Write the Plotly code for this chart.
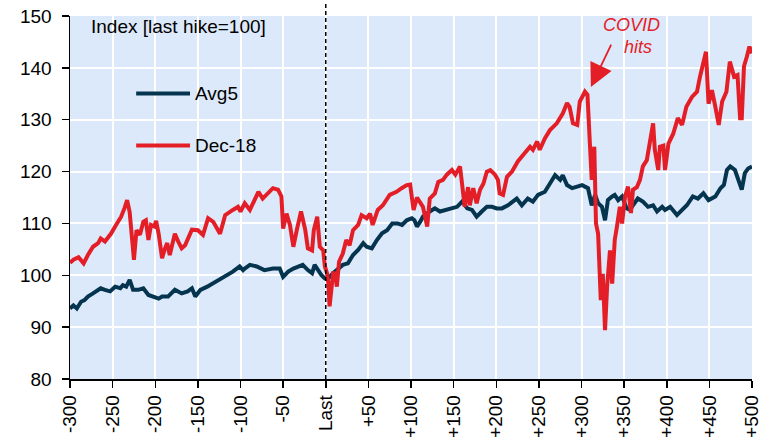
import plotly.graph_objects as go

# ---- data ----
dec18_x = [-300, -296, -290, -284, -279, -273, -267, -264, -259, -252, -246, -240, -236, -233, -230, -227, -225,
           -222, -218, -214, -211, -208, -205, -201, -199, -196, -192, -189, -186, -183, -180, -177, -173, -169,
           -165, -161, -157, -150, -144, -138, -132, -124, -118, -109, -103, -100, -95, -89, -84, -79, -74, -68,
           -62, -56, -52, -50, -46, -42, -38, -34, -29, -24, -21, -16, -14, -10, -7, -3, -1, 1.5, 3, 4.5, 7, 8.6,
           11, 13, 15.6, 20, 24, 28, 32, 38, 42, 48, 52, 55, 61, 67, 75, 83, 89, 95, 99, 103, 107, 110.6, 114,
           119, 122, 128, 132, 137.5, 142, 148, 152, 157.5, 161, 163, 167, 169, 173, 177, 181, 185, 189, 193,
           198.5, 202, 204, 208, 212.6, 218.5, 225.5, 233.7, 239.6, 243, 248, 251, 257, 263, 271, 278, 283, 286,
           290, 295, 298, 304, 307, 310, 312, 315, 317, 319.5, 322.6, 325, 327.6, 330, 333.4, 336, 339, 341.6,
           345, 347.6, 351, 354.6, 358, 360.4, 365, 368.6, 372, 376.6, 380, 384, 386, 390, 392, 396, 398, 402,
           407.6, 413, 418, 423, 429.6, 435.5, 439, 443, 446, 449, 453, 457, 461, 465, 470, 474, 479, 483, 486,
           488, 490.6, 494, 497, 500]
dec18_y = [102.4, 103.0, 103.5, 102.3, 103.9, 105.5, 106.2, 107.1, 106.5, 108.0, 109.7, 111.3, 113.0, 114.5, 112.2,
           106.8, 103.0, 108.7, 107.8, 110.3, 110.6, 106.8, 109.7, 109.4, 110.5, 108.0, 103.3, 105.0, 106.2, 103.9,
           106.0, 108.0, 106.5, 105.2, 105.8, 107.5, 108.8, 108.7, 107.8, 111.0, 110.3, 108.0, 111.6, 112.6, 113.2,
           112.3, 113.9, 112.6, 114.5, 116.1, 114.8, 115.8, 116.8, 116.5, 115.2, 109.0, 111.9, 109.7, 105.5, 108.7,
           112.3, 108.7, 105.2, 104.8, 108.7, 111.3, 105.5, 104.8, 101.7, 100.4, 98.5, 94.0, 98.5, 100.4, 100.4,
           97.8, 102.6, 104.2, 106.8, 105.8, 108.7, 109.7, 111.6, 111.0, 111.9, 109.7, 112.6, 113.5, 115.5, 116.1,
           116.8, 117.4, 117.5, 112.6, 115.0, 113.9, 113.2, 109.4, 114.8, 115.8, 118.0, 118.4, 119.4, 120.3, 119.4,
           121.0, 115.2, 113.2, 117.0, 113.5, 116.8, 113.9, 116.5, 117.7, 120.0, 120.3, 119.4, 118.4, 115.8, 115.5,
           119.0, 120.0, 122.0, 123.8, 124.8, 124.2, 125.8, 124.2, 126.4, 128.0, 129.3, 131.2, 133.2, 132.5, 129.3,
           129.0, 133.5, 135.4, 134.8, 124.8, 118.4, 124.8, 110.0, 108.0, 95.2, 100.3, 89.4, 97.7, 104.8, 98.4,
           106.8, 109.4, 113.2, 110.0, 115.1, 117.1, 112.0, 116.5, 117.0, 118.4, 121.0, 122.2, 125.4, 129.3, 124.2,
           120.3, 124.8, 125.0, 120.3, 125.4, 127.3, 130.3, 129.0, 132.5, 134.4, 135.4, 138.3, 140.9, 143.1, 133.1,
           135.7, 132.5, 129.0, 133.5, 135.4, 141.2, 138.3, 138.6, 130.3, 130.3, 140.3, 142.2, 144.1, 142.8]

avg5_x = [-300, -296, -292, -287, -283, -279, -273, -267, -264, -259, -253, -247, -241, -238, -234, -230, -226, -220,
          -214, -208, -204, -200, -196, -192, -185, -177, -169, -162, -157, -153, -147, -139, -132, -124, -116,
          -109, -101, -97, -95, -89, -81, -72, -62, -54, -50, -44, -38, -32, -27, -21, -16, -13, -9, -5, -1, 3,
          8.6, 14.5, 20, 26, 32, 38, 44, 48, 54, 60, 66, 72, 78, 84, 89.5, 95, 101, 104, 107, 110.6, 114, 122,
          128, 134, 142, 148, 154, 160, 166, 171.5, 177, 183, 189, 195, 200.6, 206.6, 213.7, 224, 230, 237, 243,
          249, 257, 263, 269, 275, 278, 283, 289, 295, 300.6, 304, 307.6, 312, 316, 319.5, 324, 327.6, 331, 336,
          339, 343, 347.6, 353, 357, 360.4, 366, 372, 378, 384, 388.6, 394.6, 398, 404, 412, 418, 423.6, 430.6,
          436.5, 443, 449, 457, 463, 467, 470.6, 474.5, 480, 484, 488, 491.6, 495.5, 500]
avg5_y = [93.6, 94.2, 93.6, 94.9, 95.2, 95.9, 96.5, 97.2, 97.5, 97.2, 96.9, 97.8, 97.5, 98.1, 97.8, 99.1, 97.2, 97.2,
          97.5, 96.2, 96.0, 95.6, 95.5, 95.9, 95.9, 97.2, 96.5, 96.9, 97.5, 95.9, 97.2, 97.8, 98.5, 99.1, 100.1,
          100.7, 101.7, 101.0, 101.3, 102.0, 101.7, 101.0, 101.3, 101.3, 99.7, 100.7, 101.3, 101.7, 102.0, 101.0,
          100.4, 102.0, 101.0, 100.0, 99.4, 99.4, 100.4, 101.3, 102.0, 102.3, 103.9, 104.9, 106.2, 105.5, 105.2,
          106.8, 108.1, 108.7, 110.0, 110.0, 109.7, 110.6, 111.0, 110.6, 109.4, 110.3, 111.3, 112.3, 112.9, 112.3,
          112.6, 112.9, 113.2, 114.2, 112.9, 112.6, 111.3, 112.3, 113.2, 113.2, 112.9, 112.9, 113.5, 114.8, 113.5,
          114.8, 114.2, 115.5, 116.1, 117.7, 119.3, 118.4, 119.3, 117.4, 116.8, 117.1, 117.4, 117.1, 116.8, 113.5,
          115.5, 113.9, 113.2, 110.6, 114.5, 115.2, 115.5, 114.5, 115.2, 112.9, 112.6, 113.5, 114.8, 114.2, 113.2,
          113.5, 112.3, 113.2, 112.6, 113.2, 111.6, 112.6, 113.5, 115.2, 114.8, 115.8, 114.5, 115.2, 116.8, 117.4,
          120.3, 121.0, 120.3, 118.4, 116.5, 119.7, 120.6, 121.0]

tick_vals = [-300, -250, -200, -150, -100, -50, 0, 50, 100, 150, 200, 250, 300, 350, 400, 450, 500]
tick_text = ["-300", "-250", "-200", "-150", "-100", "-50", "Last", "+50", "+100", "+150", "+200",
             "+250", "+300", "+350", "+400", "+450", "+500"]
series_names = ["Avg5", "Dec-18"]
series_colors = ["#05344F", "#E41E26"]

FONT = "Liberation Sans, Arial, sans-serif"
FS = 19

fig = go.Figure()
fig.add_trace(go.Scatter(x=avg5_x, y=avg5_y, mode="lines", name=series_names[0],
                         line=dict(color=series_colors[0], width=4), showlegend=False))
fig.add_trace(go.Scatter(x=dec18_x, y=dec18_y, mode="lines", name=series_names[1],
                         line=dict(color=series_colors[1], width=4), showlegend=False))

# dashed vertical line at the last hike
fig.add_shape(type="line", xref="x", yref="paper", x0=0, x1=0, y0=0, y1=1.033,
              line=dict(color="black", width=1.5, dash="4px,3px"), layer="above")

# manual legend
for i, (nm, col) in enumerate(zip(series_names, series_colors)):
    yp = 0.7865 - i * 0.1435
    fig.add_shape(type="line", xref="paper", yref="paper", x0=0.097, x1=0.176, y0=yp, y1=yp,
                  line=dict(color=col, width=4))
    fig.add_annotation(xref="paper", yref="paper", x=0.180, y=yp, text=nm, showarrow=False,
                       xanchor="left", yanchor="middle", font=dict(family=FONT, size=FS, color="black"))

fig.add_annotation(xref="paper", yref="paper", x=0.028, y=0.970, text="Index [last hike=100]",
                   showarrow=False, xanchor="left", yanchor="middle",
                   font=dict(family=FONT, size=FS, color="black"))

# COVID annotation
fig.add_annotation(x=359, y=148.3, text="<i>COVID</i>", showarrow=False, xanchor="center", yanchor="middle",
                   font=dict(family=FONT, size=FS - 1, color="#E41E26"))
fig.add_annotation(x=366, y=144.0, text="<i>hits</i>", showarrow=False, xanchor="center", yanchor="middle",
                   font=dict(family=FONT, size=FS - 1, color="#E41E26"))
fig.add_annotation(x=311, y=136.3, text="", showarrow=True, ax=21, ay=-44, axref="pixel", ayref="pixel",
                   arrowhead=2, arrowsize=2.6, arrowwidth=1.8, arrowcolor="#E41E26")

fig.update_layout(
    width=770, height=442,
    margin=dict(l=70, r=18, t=16, b=63, autoexpand=False),
    paper_bgcolor="white", plot_bgcolor="#DCE9FA",
    font=dict(family=FONT, size=FS, color="black"),
    showlegend=False,
)
fig.update_xaxes(range=[-300, 500], tickvals=tick_vals, ticktext=tick_text, tickangle=-90,
                 showline=True, linecolor="black", linewidth=1.5, ticks="outside", ticklen=7,
                 tickcolor="black", tickwidth=1.5, showgrid=True, gridcolor="white", gridwidth=2,
                 zeroline=False, automargin=False, ticklabeloverflow="allow",
                 tickfont=dict(family=FONT, size=FS, color="black"))
fig.update_yaxes(range=[80, 150], dtick=10, tick0=80,
                 showline=True, linecolor="black", linewidth=1.5, ticks="outside", ticklen=7,
                 tickcolor="black", tickwidth=1.5, showgrid=True, gridcolor="white", gridwidth=2,
                 zeroline=False, automargin=False, ticklabeloverflow="allow",
                 tickfont=dict(family=FONT, size=FS, color="black"), ticklabelstandoff=6)

# remove the default 8px page margin so the figure sits at the window's top-left corner
fig.write_html("out.html",
               config={"displayModeBar": False, "staticPlot": True},
               post_script="document.body.style.margin='0';document.body.style.overflow='hidden';")
